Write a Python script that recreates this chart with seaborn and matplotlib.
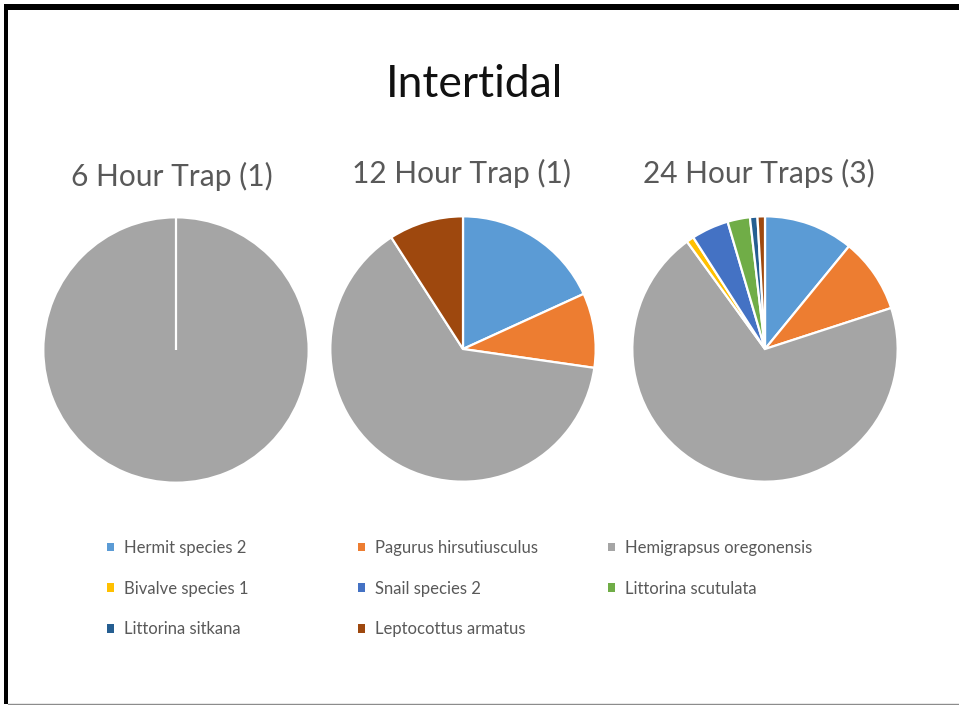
import matplotlib
matplotlib.use("Agg")
import matplotlib.pyplot as plt
from matplotlib.patches import Patch, Rectangle
from matplotlib.lines import Line2D
import seaborn as sns

# Species and their counts per trap group
species = [
    "Hermit species 2",
    "Pagurus hirsutiusculus",
    "Hemigrapsus oregonensis",
    "Bivalve species 1",
    "Snail species 2",
    "Littorina scutulata",
    "Littorina sitkana",
    "Leptocottus armatus",
]
counts_6h = [0, 0, 1, 0, 0, 0, 0, 0]
counts_12h = [2, 1, 7, 0, 0, 0, 0, 1]
counts_24h = [12, 10, 77, 1, 5, 3, 1, 1]
panel_titles = ["6 Hour Trap (1)", "12 Hour Trap (1)", "24 Hour Traps (3)"]
main_title = "Intertidal"

palette_hex = ["#5B9BD5", "#ED7D31", "#A5A5A5", "#FFC000",
               "#4472C4", "#70AD47", "#255E91", "#9E480E"]

sns.set_theme(style="white")
colors = sns.color_palette(palette_hex)
plt.rcParams["font.family"] = ["Lato", "DejaVu Sans"]

W, H = 959, 705
fig = plt.figure(figsize=(W / 100, H / 100), dpi=100)
fig.patch.set_facecolor("white")

R = 134  # pie radius in pixels
centers = [(176, 350), (463, 349), (765, 349)]
title_x = [172, 462, 759]
title_base = [186, 183, 183]
all_counts = [counts_6h, counts_12h, counts_24h]

for (cx, cy), counts, ttl, tx, ty in zip(centers, all_counts, panel_titles,
                                          title_x, title_base):
    ax = fig.add_axes([(cx - R) / W, (H - cy - R) / H, 2 * R / W, 2 * R / H])
    vals = [v for v in counts if v > 0]
    cols = [c for v, c in zip(counts, colors) if v > 0]
    ax.pie(vals, colors=cols, startangle=90, counterclock=False, radius=1,
           wedgeprops=dict(edgecolor="white", linewidth=1.6))
    if len(vals) == 1:
        # a lone full-circle slice still shows its seam at 12 o'clock
        ax.plot([0, 0], [0, 1], color="white", linewidth=1.6,
                solid_capstyle="butt")
    ax.set_xlim(-1.01, 1.01)
    ax.set_ylim(-1.01, 1.01)
    ax.set_aspect("equal")
    ax.axis("off")
    fig.text(tx / W, 1 - ty / H, ttl, ha="center", va="baseline",
             fontsize=21.5, color="#595959")

fig.text(474 / W, 1 - 97 / H, main_title, ha="center", va="baseline",
         fontsize=32, color="#111111")

# Legend laid out in three columns, filled row by row
col_x = [107, 358, 608]
for ci, x0 in enumerate(col_x):
    idx = list(range(ci, len(species), 3))
    handles = [Patch(facecolor=colors[i], edgecolor="none") for i in idx]
    labels = [species[i] for i in idx]
    fig.legend(handles, labels, loc="upper left",
               bbox_to_anchor=(x0 / W, 1 - 540 / H), frameon=False,
               fontsize=12, labelcolor="#595959", handlelength=0.42,
               handleheight=0.42, handletextpad=0.6, labelspacing=1.48,
               borderpad=0, borderaxespad=0)

# Outer frame: heavy black on top and left, thin grey along the bottom
fig.patches.append(Rectangle((4 / W, 1 - 10 / H), 1 - 4 / W, 6 / H,
                             transform=fig.transFigure, facecolor="black",
                             edgecolor="none"))
fig.patches.append(Rectangle((4 / W, 1 - 704 / H), 4 / W, 700 / H,
                             transform=fig.transFigure, facecolor="black",
                             edgecolor="none"))
fig.lines.append(Line2D([8 / W, 1], [1 - 703.5 / H, 1 - 703.5 / H],
                        transform=fig.transFigure, color="#8c8c8c",
                        linewidth=1))

fig.savefig("out.png", dpi=100)
